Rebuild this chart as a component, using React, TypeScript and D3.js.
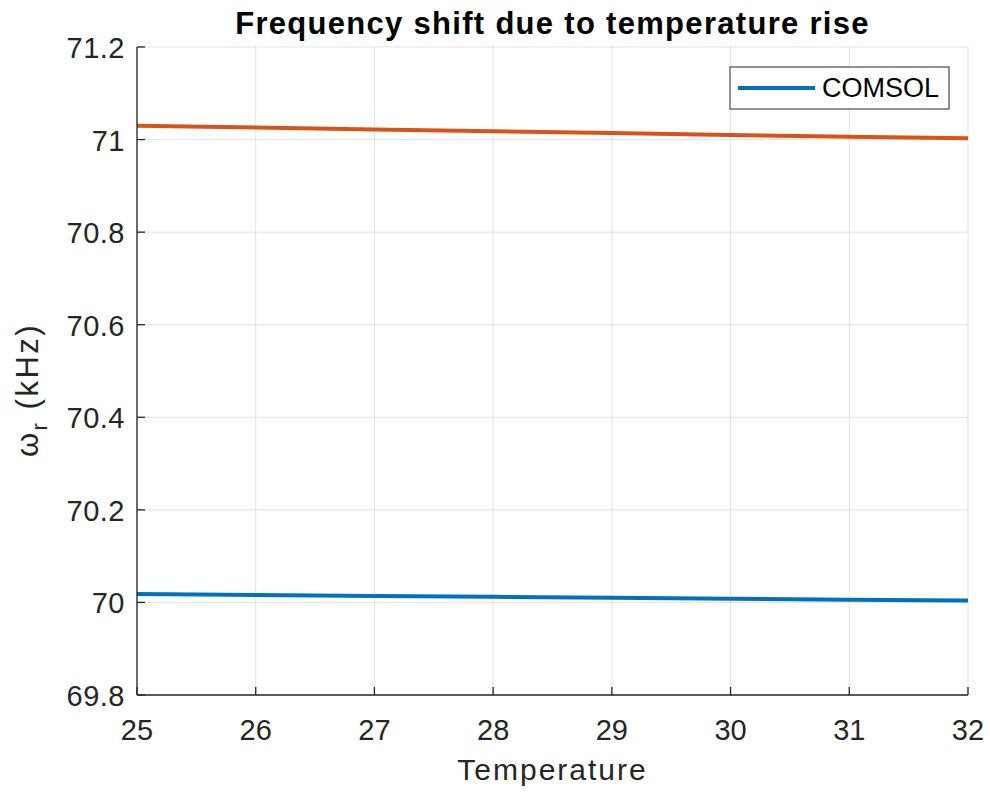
import React, { useEffect, useRef } from 'react';
import * as d3 from 'd3';

const temps = [25, 26, 27, 28, 29, 30, 31, 32];
const fOrange = [71.03, 71.026, 71.022, 71.018, 71.014, 71.01, 71.006, 71.003];
const fBlue = [70.018, 70.016, 70.014, 70.012, 70.01, 70.008, 70.006, 70.004];
const xTicks = [25, 26, 27, 28, 29, 30, 31, 32];
const yTicks = [69.8, 70, 70.2, 70.4, 70.6, 70.8, 71, 71.2];
const legendNames = ['COMSOL'];

const W = 990, H = 792;
const m = { left: 137, right: 22, top: 47, bottom: 97 };
const font = "'Liberation Sans', Arial, Helvetica, sans-serif";

export default function App() {
  const ref = useRef<SVGSVGElement>(null);

  useEffect(() => {
    const svg = d3.select(ref.current);
    svg.selectAll('*').remove();

    const x = d3.scaleLinear().domain([25, 32]).range([m.left, W - m.right]);
    const y = d3.scaleLinear().domain([69.8, 71.2]).range([H - m.bottom, m.top]);

    svg.append('rect').attr('width', W).attr('height', H).attr('fill', '#fff');

    // grid
    const grid = svg.append('g').attr('stroke', '#262626').attr('stroke-opacity', 0.13).attr('stroke-width', 1);
    xTicks.forEach(t => grid.append('line').attr('x1', x(t)).attr('x2', x(t)).attr('y1', y(69.8)).attr('y2', y(71.2)));
    yTicks.forEach(t => grid.append('line').attr('x1', x(25)).attr('x2', x(32)).attr('y1', y(t)).attr('y2', y(t)));

    // data lines
    const line = d3.line<number>().x((d, i) => x(temps[i])).y(d => y(d));
    svg.append('path').attr('d', line(fOrange)).attr('fill', 'none').attr('stroke', '#D95319').attr('stroke-width', 4);
    svg.append('path').attr('d', line(fBlue)).attr('fill', 'none').attr('stroke', '#0072BD').attr('stroke-width', 4);

    // axes
    const ax = svg.append('g').attr('stroke', '#262626').attr('stroke-width', 1.3);
    ax.append('line').attr('x1', x(25)).attr('x2', x(32)).attr('y1', y(69.8)).attr('y2', y(69.8));
    ax.append('line').attr('x1', x(25)).attr('x2', x(25)).attr('y1', y(69.8)).attr('y2', y(71.2));
    xTicks.forEach(t => ax.append('line').attr('x1', x(t)).attr('x2', x(t)).attr('y1', y(69.8)).attr('y2', y(69.8) - 8));
    yTicks.forEach(t => ax.append('line').attr('x1', x(25)).attr('x2', x(25) + 8).attr('y1', y(t)).attr('y2', y(t)));

    const fmt = d3.format('~g');
    svg.append('g').selectAll('text').data(xTicks).enter().append('text')
      .attr('x', d => x(d)).attr('y', y(69.8) + 45)
      .attr('text-anchor', 'middle').attr('font-size', 29).attr('font-family', font).attr('fill', '#262626')
      .text(d => fmt(d));
    svg.append('g').selectAll('text').data(yTicks).enter().append('text')
      .attr('x', x(25) - 12).attr('y', d => y(d) + 11)
      .attr('text-anchor', 'end').attr('font-size', 29).attr('letter-spacing', 0.5).attr('font-family', font).attr('fill', '#262626')
      .text(d => fmt(d));

    // title & labels
    svg.append('text').attr('x', (x(25) + x(32)) / 2).attr('y', 34)
      .attr('text-anchor', 'middle').attr('font-size', 31).attr('font-weight', 'bold').attr('letter-spacing', 1.3)
      .attr('font-family', font).attr('fill', '#000').text('Frequency shift due to temperature rise');
    svg.append('text').attr('x', (x(25) + x(32)) / 2).attr('y', 780)
      .attr('text-anchor', 'middle').attr('font-size', 30).attr('letter-spacing', 2).attr('font-family', font).attr('fill', '#262626')
      .text('Temperature');
    const yl = svg.append('text').attr('transform', `translate(38,390) rotate(-90)`)
      .attr('text-anchor', 'middle').attr('font-size', 31).attr('letter-spacing', 2.5).attr('font-family', font).attr('fill', '#262626');
    yl.append('tspan').text('ω');
    yl.append('tspan').attr('font-size', 22).attr('dy', 9).text('r');
    yl.append('tspan').attr('dy', -9).text(' (kHz)');

    // legend
    const lg = svg.append('g').attr('transform', 'translate(730,67)');
    lg.append('rect').attr('width', 219).attr('height', 42).attr('fill', '#fff').attr('stroke', '#262626').attr('stroke-width', 1);
    legendNames.forEach((n, i) => {
      lg.append('line').attr('x1', 8).attr('x2', 85).attr('y1', 21 + i * 30).attr('y2', 21 + i * 30)
        .attr('stroke', '#0072BD').attr('stroke-width', 4);
      lg.append('text').attr('x', 92).attr('y', 30 + i * 30).attr('font-size', 27).attr('font-family', font)
        .attr('fill', '#000').text(n);
    });
  }, []);

  return <svg ref={ref} width={W} height={H} style={{ position: 'absolute', left: 0, top: 0 }} />;
}
